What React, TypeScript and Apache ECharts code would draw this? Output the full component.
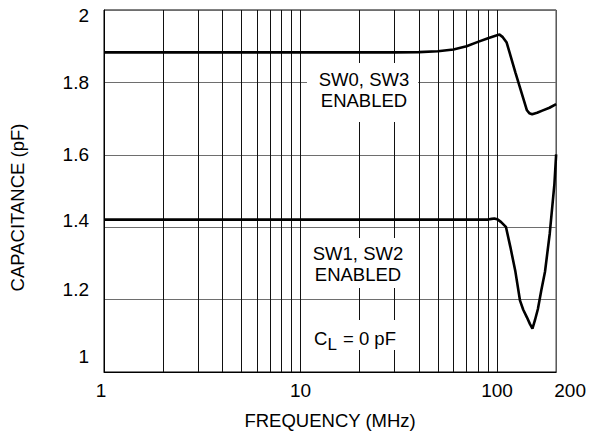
import React, { useEffect, useRef } from "react";
import * as echarts from "echarts";

// SW0, SW3 enabled curve
const freqTop = [1, 30, 40, 50, 60, 70, 80, 90, 100, 103, 107, 112, 124, 142, 146, 151, 160, 170, 185, 200];
const capTop = [1.883, 1.883, 1.8835, 1.886, 1.891, 1.9, 1.912, 1.922, 1.93, 1.932, 1.925, 1.91, 1.828, 1.723, 1.715, 1.712, 1.716, 1.722, 1.73, 1.74];

// SW1, SW2 enabled curve
const freqBottom = [1, 90, 94, 97, 101, 105, 111, 117, 124, 131, 136, 142, 147, 151.5, 156, 161.5, 168, 175.5, 185.5, 196, 200];
const capBottom = [1.421, 1.421, 1.423, 1.424, 1.421, 1.414, 1.401, 1.345, 1.278, 1.197, 1.172, 1.151, 1.133, 1.12, 1.143, 1.174, 1.225, 1.277, 1.382, 1.52, 1.601];

// axis ticks
const xTickLabels = [1, 10, 100, 200];
const xGridFreqs = [2, 3, 4, 5, 6, 7, 8, 9, 10, 20, 30, 40, 50, 60, 70, 80, 90, 100];
const yMin = 1;
const yMax = 2;
const yStep = 0.2;

const FONT = "'Liberation Sans', Arial, Helvetica, sans-serif";
const TICK_FS = 19;
const TEXT_FS = 18.5;

export default function App() {
  const ref = useRef<HTMLDivElement>(null);

  useEffect(() => {
    document.body.style.margin = "0";
    if (!ref.current) return;
    const chart = echarts.init(ref.current, undefined, { renderer: "svg" });

    // vertical offsets of y labels (px, + = down) as in the reference
    const yShift: Record<number, number> = { 10: -15.5, 12: -10.4, 14: -6.7, 16: 0, 18: 0, 20: 5 };
    const yRich: Record<string, any> = {};
    Object.keys(yShift).forEach((k) => {
      const d = yShift[Number(k)];
      yRich["s" + k] = {
        fontSize: TICK_FS,
        fontFamily: FONT,
        color: "#000",
        padding: d < 0 ? [0, 0, -2 * d, 0] : [2 * d, 0, 0, 0],
      };
    });

    const option: any = {
      animation: false,
      backgroundColor: "#fff",
      textStyle: { fontFamily: FONT },
      grid: {
        left: 100,
        right: 27,
        top: 10,
        bottom: 58,
        show: true,
        borderColor: "#000",
        borderWidth: 1,
        backgroundColor: "transparent",
      },
      xAxis: {
        type: "log",
        logBase: 10,
        min: 1,
        max: 200,
        name: "FREQUENCY (MHz)",
        nameLocation: "middle",
        nameGap: 39,
        nameTextStyle: { fontSize: TEXT_FS, color: "#000", fontFamily: FONT },
        axisLine: { show: true, lineStyle: { color: "#000", width: 1 } },
        axisTick: { show: false },
        splitLine: { show: false },
        minorTick: { show: false },
        minorSplitLine: { show: false },
        axisLabel: {
          customValues: xTickLabels,
          margin: 9,
          fontSize: TICK_FS,
          color: "#000",
          fontFamily: FONT,
          formatter: (v: number) => {
            const r = Math.round(v);
            if (r === 200) return "{r|200}";
            if (r === 1) return "{l|1}";
            return String(r);
          },
          rich: {
            r: { padding: [0, 0, 0, 28], fontSize: TICK_FS, color: "#000", fontFamily: FONT },
            l: { padding: [0, 6, 0, 0], fontSize: TICK_FS, color: "#000", fontFamily: FONT },
          },
        },
      },
      yAxis: {
        type: "value",
        min: yMin,
        max: yMax,
        interval: yStep,
        name: "CAPACITANCE (pF)",
        nameLocation: "middle",
        nameGap: 77,
        nameTextStyle: { fontSize: TEXT_FS, color: "#000", fontFamily: FONT, padding: [0, 33, 0, 0] },
        axisLine: { show: true, lineStyle: { color: "#000", width: 1 } },
        axisTick: { show: false },
        splitLine: { show: true, lineStyle: { color: "#6e6e6e", width: 1 } },
        axisLabel: {
          margin: 15,
          color: "#000",
          fontSize: TICK_FS,
          fontFamily: FONT,
          formatter: (v: number) => {
            const k = Math.round(v * 10);
            const txt = String(k / 10);
            return yShift[k] !== undefined ? `{s${k}|${txt}}` : txt;
          },
          rich: yRich,
        },
      },
      series: [
        {
          type: "line",
          name: "SW0, SW3",
          data: freqTop.map((f, i) => [f, capTop[i]]),
          showSymbol: false,
          symbol: "none",
          smooth: false,
          lineStyle: { color: "#000", width: 2.6 },
          z: 5,
          markLine: {
            silent: true,
            symbol: ["none", "none"],
            label: { show: false },
            lineStyle: { color: "#111", width: 1, type: "solid" },
            data: xGridFreqs.map((f) => ({ xAxis: f })),
          },
        },
        {
          type: "line",
          name: "SW1, SW2",
          data: freqBottom.map((f, i) => [f, capBottom[i]]),
          showSymbol: false,
          symbol: "none",
          smooth: false,
          lineStyle: { color: "#000", width: 2.6 },
          z: 5,
        },
      ],
      graphic: [
        { type: "rect", z: 50, shape: { x: 307, y: 63, width: 111, height: 59 }, style: { fill: "#fff" } },
        {
          type: "text",
          z: 51,
          x: 364,
          y: 90,
          style: {
            text: "SW0, SW3\nENABLED",
            fill: "#000",
            font: `${TEXT_FS}px ${FONT}`,
            align: "center",
            verticalAlign: "middle",
            lineHeight: 21,
          },
        },
        { type: "rect", z: 50, shape: { x: 305, y: 238, width: 107, height: 50 }, style: { fill: "#fff" } },
        {
          type: "text",
          z: 51,
          x: 358,
          y: 264,
          style: {
            text: "SW1, SW2\nENABLED",
            fill: "#000",
            font: `${TEXT_FS}px ${FONT}`,
            align: "center",
            verticalAlign: "middle",
            lineHeight: 21,
          },
        },
        { type: "rect", z: 50, shape: { x: 306, y: 320, width: 95, height: 30 }, style: { fill: "#fff" } },
        {
          type: "text",
          z: 51,
          x: 355,
          y: 338,
          style: {
            text: "{a|C}{b|L}{a| = 0 pF}",
            align: "center",
            verticalAlign: "middle",
            rich: {
              a: { fontSize: TEXT_FS, fontFamily: FONT, fill: "#000" },
              b: { fontSize: 17, fontFamily: FONT, fill: "#000", padding: [12, 1, 0, 0] },
            },
          },
        },
      ],
    };

    chart.setOption(option);
    return () => chart.dispose();
  }, []);

  return <div ref={ref} style={{ width: 589, height: 435 }} />;
}
